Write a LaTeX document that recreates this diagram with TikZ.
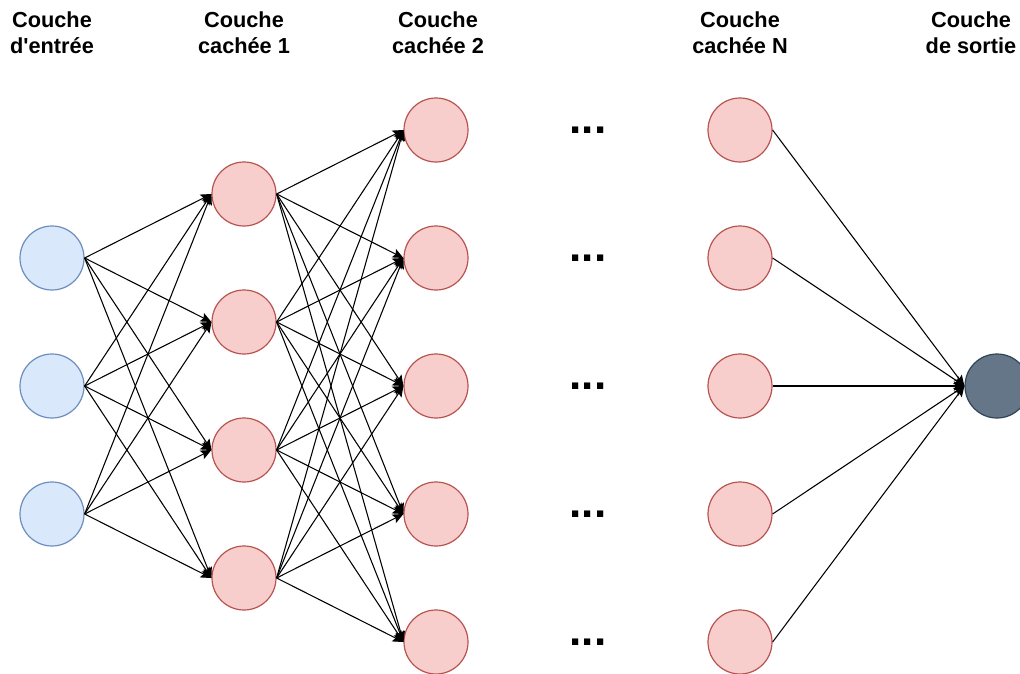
\documentclass[tikz,border=0pt]{standalone}
\usepackage{fontspec}
\newfontfamily\labelfont{Liberation Sans}
\usetikzlibrary{arrows.meta}
\definecolor{inFill}{HTML}{DAE8FC}
\definecolor{inLine}{HTML}{6C8EBF}
\definecolor{hidFill}{HTML}{F8CECC}
\definecolor{hidLine}{HTML}{B85450}
\definecolor{outFill}{HTML}{647687}
\definecolor{outLine}{HTML}{314354}
\tikzset{
  neuron/.style={circle, minimum size=48pt, inner sep=0pt, line width=0.9pt},
  inneuron/.style={neuron, draw=inLine, fill=inFill},
  hidneuron/.style={neuron, draw=hidLine, fill=hidFill},
  outneuron/.style={neuron, draw=outLine, fill=outFill},
  layertitle/.style={align=center, font=\labelfont\bfseries\fontsize{16.3}{19.5}\selectfont},
  dotsmark/.style={anchor=base, inner sep=0pt, font=\labelfont\bfseries\fontsize{33}{33}\selectfont},
  link/.style={line width=0.8pt, -{Stealth[length=8pt, width=7pt, inset=1.5pt]}}
}
\begin{document}
\begin{tikzpicture}[x=0.75pt, y=-0.75pt]
\useasboundingbox (0,0) rectangle (1020,674);

% layer titles
\node[layertitle] (tIn)  at (52,33)  {Couche\\d'entrée};
\node[layertitle] (tH1)  at (244,33) {Couche\\cachée 1};
\node[layertitle] (tH2)  at (438,33) {Couche\\cachée 2};
\node[layertitle] (tHN)  at (740,33) {Couche\\cachée N};
\node[layertitle] (tOut) at (971,33) {Couche\\de sortie};

% neurons
\foreach \i/\y in {1/258, 2/386, 3/514}
  \node[inneuron] (in\i) at (52,\y) {};
\foreach \i/\y in {1/194, 2/322, 3/450, 4/578}
  \node[hidneuron] (ha\i) at (244,\y) {};
\foreach \i/\y in {1/130, 2/258, 3/386, 4/514, 5/642} {
  \node[hidneuron] (hb\i) at (436,\y) {};
  \node[hidneuron] (hn\i) at (740,\y) {};
  \node[dotsmark] (dots\i) at (588,\y+3) {...};
}
\node[outneuron] (out) at (997,386) {};

% connections
\foreach \a in {1,2,3}
  \foreach \b in {1,2,3,4}
    \draw[link] (in\a.east) -- (ha\b.west);
\foreach \a in {1,2,3,4}
  \foreach \b in {1,2,3,4,5}
    \draw[link] (ha\a.east) -- (hb\b.west);
\foreach \a in {1,2,3,4,5}
  \draw[link] (hn\a.east) -- (out.west);
\end{tikzpicture}
\end{document}
